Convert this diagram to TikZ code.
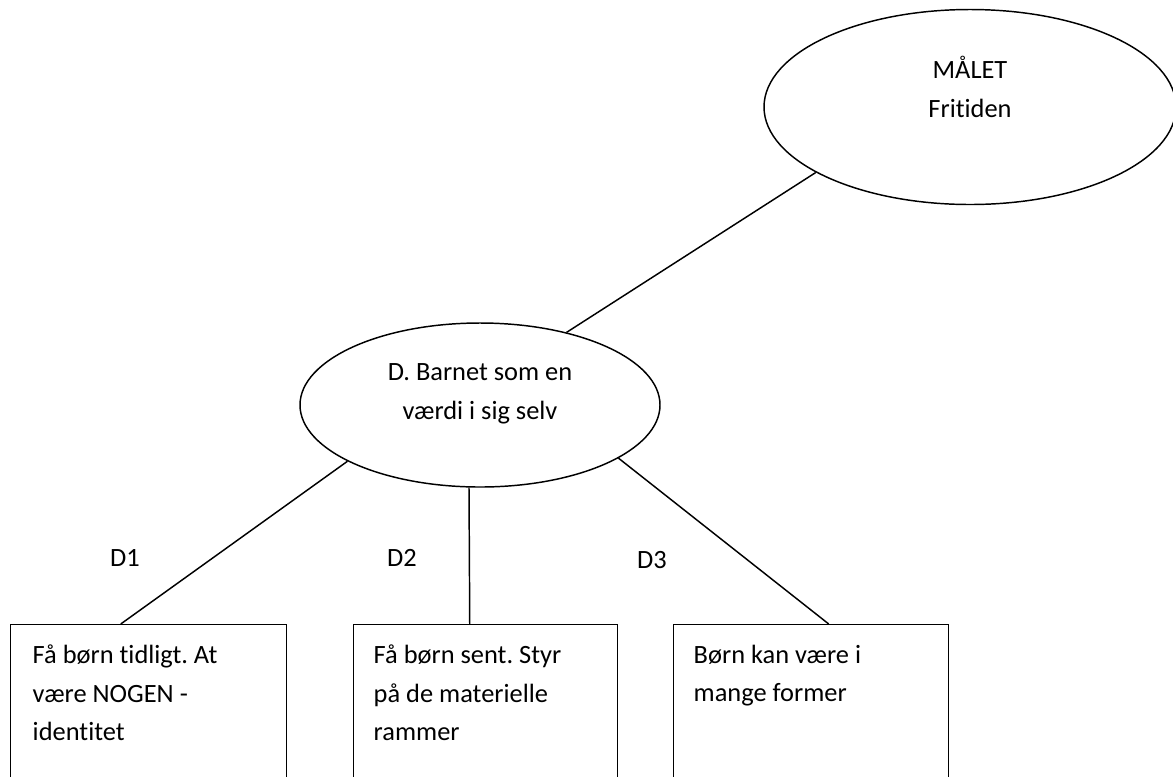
\documentclass[tikz,border=0pt]{standalone}
\usepackage{fontspec}
\setmainfont{Carlito}[Ligatures=NoCommon]
\usetikzlibrary{shapes.geometric}
\def\pxu{0.75pt}
\frenchspacing

\begin{document}
\begin{tikzpicture}[x=0.75pt,y=-0.75pt,line width=1.1pt,
  every node/.style={font=\fontsize{19.8}{29}\selectfont},
  oval/.style={draw,ellipse,inner sep=0pt},
  leafbox/.style={draw,rectangle,anchor=north west,inner sep=0pt,minimum height=200*\pxu},
  leaftext/.style={anchor=north west,align=left,inner sep=0pt}]
\useasboundingbox (0,0) rectangle (1173,776);
\clip (0,0) rectangle (1173,776);

% Goal ellipse (runs off the right edge)
\node[oval,minimum width=412*\pxu,minimum height=195*\pxu] (goal) at (970,107) {};
\node[align=center] (goaltext) at (970,87) {MÅLET\\Fritiden};

% Middle ellipse
\node[oval,minimum width=360*\pxu,minimum height=164*\pxu] (mid) at (480,405) {};
\node[align=center] (midtext) at (480,394) {D. Barnet som en\\værdi i sig selv};

% Leaf boxes (open at the bottom edge)
\node[leafbox,minimum width=276*\pxu] (d1box) at (10,624) {};
\node[leafbox,minimum width=264*\pxu] (d2box) at (353,624) {};
\node[leafbox,minimum width=275*\pxu] (d3box) at (673,624) {};

\node[leaftext] (d1text) at ([shift={(22,20)}]d1box.north west) {Få børn tidligt. At\\være NOGEN -\\identitet};
\node[leaftext] (d2text) at ([shift={(20,20)}]d2box.north west) {Få børn sent. Styr\\på de materielle\\rammer};
\node[leaftext] (d3text) at ([shift={(20,20)}]d3box.north west) {Børn kan være i\\mange former};

% Connectors
\draw (goal.203) -- (mid.40);
\draw (mid.203) -- ([xshift=-28*\pxu]d1box.north);
\draw ([xshift=-11*\pxu]mid.south) -- ([xshift=-16*\pxu]d2box.north);
\draw (mid.339) -- ([xshift=17.5*\pxu]d3box.north);

% Branch labels
\node (d1lab) at (125,558) {D1};
\node (d2lab) at (402,558) {D2};
\node (d3lab) at (652,560) {D3};
\end{tikzpicture}
\end{document}
